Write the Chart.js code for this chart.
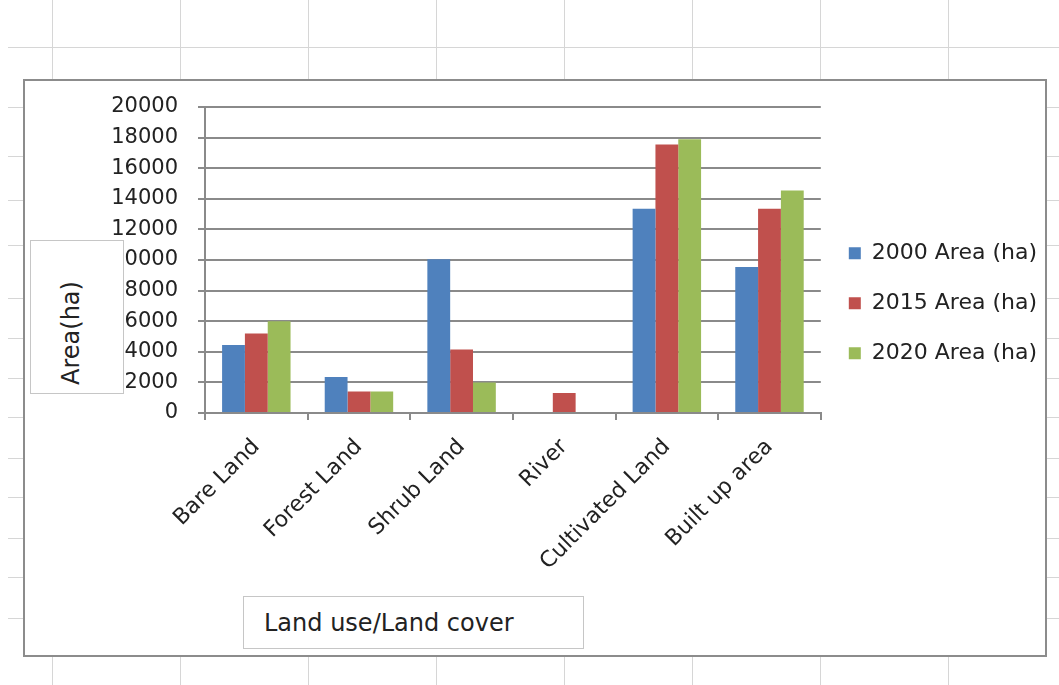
<!DOCTYPE html>
<html>
<head>
<meta charset="utf-8">
<title>Land use/Land cover</title>
<script src="https://cdn.jsdelivr.net/npm/chart.js@4.4.1/dist/chart.umd.min.js"></script>
<style>
  html, body { margin: 0; padding: 0; background: #fff; }
  #sheet { position: relative; width: 1059px; height: 685px; overflow: hidden; background: #fff; }
  .vline { position: absolute; top: 0; width: 1px; height: 685px; background: #d6d6d6; }
  .hline { position: absolute; left: 8px; width: 1051px; height: 1px; background: #d6d6d6; }
  #frame { position: absolute; left: 23px; top: 79px; width: 1020px; height: 574px;
           border: 2px solid #8c8c8c; background: #fff; }
  #landChart { position: absolute; left: 0; top: 0; }
  .titlebox { position: absolute; background: #fff; border: 1px solid #c6c6c6;
              font-family: "DejaVu Sans", sans-serif; color: #222; }
  #yTitle { left: 30px; top: 240px; width: 92px; height: 152px; }
  #yTitle span { position: absolute; left: 40px; top: 92px; font-size: 24px; white-space: nowrap;
                 transform: translate(-50%, -50%) rotate(-90deg); }
  #xTitle { left: 243px; top: 596px; width: 339px; height: 51px; }
  #xTitle span { position: absolute; left: 20px; top: 50%; font-size: 24px; white-space: nowrap;
                 transform: translateY(-50%); }
</style>
</head>
<body>
<div id="sheet">
  <div id="frame"></div>
  <canvas id="landChart" width="1059" height="685"></canvas>
  <div class="titlebox" id="yTitle"><span>Area(ha)</span></div>
  <div class="titlebox" id="xTitle"><span>Land use/Land cover</span></div>
</div>
<script>
// land use classes and area per year (ha)
const categories = ['Bare Land', 'Forest Land', 'Shrub Land', 'River', 'Cultivated Land', 'Built up area'];
const area2000 = [4450, 2350, 10050, 0, 13350, 9550];
const area2015 = [5200, 1400, 4150, 1300, 17550, 13350];
const area2020 = [6000, 1400, 2000, 0, 17900, 14550];
const seriesNames = ['2000 Area (ha)', '2015 Area (ha)', '2020 Area (ha)'];
const yMax = 20000;
const yStep = 2000;

// worksheet cell lines behind the chart
const sheet = document.getElementById('sheet');
[52, 180, 308, 436, 564, 692, 820, 948].forEach(function(x) {
    const d = document.createElement('div');
    d.className = 'vline';
    d.style.left = x + 'px';
    sheet.insertBefore(d, sheet.firstChild);
});
[47, 107, 156, 200, 245, 298, 338, 378, 417, 458, 497, 538, 577, 618].forEach(function(y) {
    const d = document.createElement('div');
    d.className = 'hline';
    d.style.top = y + 'px';
    sheet.insertBefore(d, sheet.firstChild);
});

const font = 'DejaVu Sans';
const lineGray = '#8a8a8a';
const textColor = '#222';

new Chart(document.getElementById('landChart'), {
    type: 'bar',
    data: {
        labels: categories,
        datasets: [
            { label: seriesNames[0], data: area2000, backgroundColor: '#4f81bd' },
            { label: seriesNames[1], data: area2015, backgroundColor: '#c0504d' },
            { label: seriesNames[2], data: area2020, backgroundColor: '#9bbb59' }
        ]
    },
    options: {
        responsive: false,
        animation: false,
        layout: { padding: { left: 100, top: 107, right: 12, bottom: 102 } },
        datasets: { bar: { categoryPercentage: 0.667, barPercentage: 1.0 } },
        plugins: {
            legend: {
                position: 'right',
                fullSize: false,
                // empty title just pushes the entries down a bit
                title: { display: true, text: '', padding: 36, font: { size: 12 } },
                labels: {
                    boxWidth: 12, boxHeight: 12, padding: 28,
                    color: textColor,
                    font: { family: font, size: 22 }
                }
            },
            tooltip: { enabled: false }
        },
        scales: {
            x: {
                grid: { drawOnChartArea: false, drawTicks: true, tickLength: 7, color: lineGray, lineWidth: 2, offset: true },
                border: { color: lineGray, width: 2 },
                ticks: {
                    autoSkip: false, minRotation: 45, maxRotation: 45, padding: 14,
                    color: textColor,
                    font: { family: font, size: 22 }
                },
                afterFit: function(s) { s.height = 170; }
            },
            y: {
                min: 0,
                max: yMax,
                grid: { color: lineGray, lineWidth: 2, tickLength: 7 },
                border: { color: lineGray, width: 2 },
                ticks: {
                    stepSize: yStep, padding: 20,
                    color: textColor,
                    font: { family: font, size: 21 },
                    callback: function(v) { return String(v); }
                },
                afterFit: function(s) { s.width = 105; }
            }
        }
    }
});
</script>
</body>
</html>
